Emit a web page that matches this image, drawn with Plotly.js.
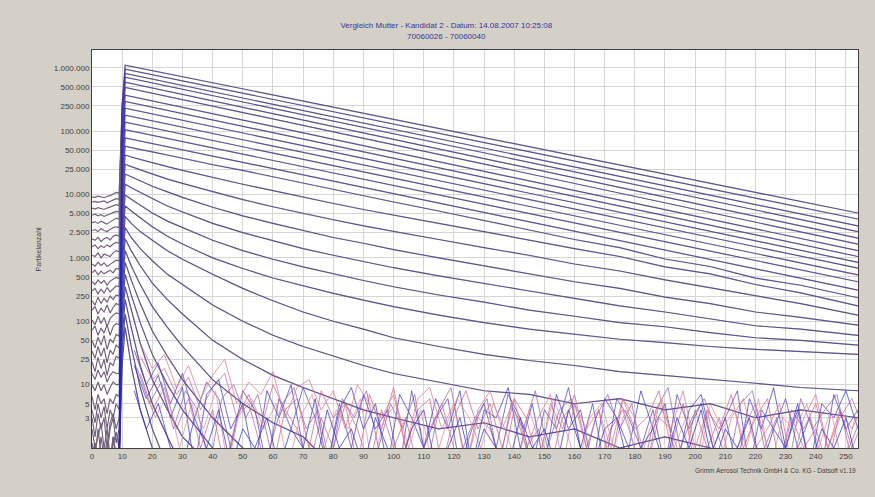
<!DOCTYPE html>
<html>
<head>
<meta charset="utf-8">
<script src="https://cdn.plot.ly/plotly-3.0.1.min.js"></script>
<style>html,body{margin:0;padding:0;background:#d4d0c8;}#chart{width:875px;height:497px;}</style>
</head>
<body>
<div id="chart"></div>
<script>
// ---- data ----
const X_TICKS = [0,10,20,30,40,50,60,70,80,90,100,110,120,130,140,150,160,170,180,190,200,210,220,230,240,250];
const Y_TICKS = [3,5,10,25,50,100,250,500,1000,2500,5000,10000,25000,50000,100000,250000,500000,1000000];
const Y_TICKTEXT = ['3','5','10','25','50','100','250','500','1.000','2.500','5.000','10.000','25.000','50.000','100.000','250.000','500.000','1.000.000'];

// sample times before the aerosol arrives (only Kandidat counts there)
const X_VOR = [0,1,2,3,4,5,6,7,8,9];
// Mutter counts are zero before x=10 (drawn just below the axis floor)
const MUTTER_START_X = 9;
const MUTTER_START_WERT = 0.4;

// channels that decay in a straight line on the log scale: values at X_GERADE
const X_GERADE = [10, 11, 254];
const geradeKanaele = [
  [275000,1100000,5100],
  [240000,950000,4100],
  [200000,810000,3200],
  [180000,710000,2600],
  [150000,590000,2050],
  [120000,490000,1650],
  [92000,370000,1300],
  [74000,295000,1050],
  [58000,230000,850],
  [45000,178000,690],
  [35000,138000,540],
  [26000,105000,420],
  [19500,78000,310]
];

// curved channels: values at X_KURVE (null = no more data)
const X_KURVE = [10,11,13,16,20,25,30,40,50,60,70,80,90,100,115,130,145,160,175,190,205,220,235,254];
const kurveKanaele = [
  [14500,58000,55000,51000,47000,42000,37000,29500,24000,19000,15000,12000,9600,7600,5500,3900,2750,1950,1450,960,730,480,370,235],
  [10500,42000,39000,35500,31500,27500,24000,18500,14500,11500,9000,7200,5800,4700,3500,2600,1900,1400,1050,720,560,380,280,175],
  [7500,30000,27500,24500,21000,17500,15000,11000,8300,6400,5000,4000,3200,2600,1950,1450,1100,800,620,450,340,250,190,125],
  [5200,21000,19000,16500,13500,11000,9000,6300,4600,3500,2700,2100,1700,1350,1000,750,560,420,330,240,190,140,115,87],
  [3600,14500,12800,10800,8500,6600,5300,3500,2500,1850,1400,1100,880,700,520,390,300,230,175,140,110,85,75,60],
  [2400,9800,8400,6800,5100,3800,3000,1900,1300,950,720,560,440,350,260,200,150,120,95,82,66,55,50,42],
  [1650,6600,5500,4300,3100,2200,1650,1000,680,480,360,275,215,170,125,95,75,62,52,46,40,36,33,30],
  [1100,4500,3500,2600,1900,1300,950,550,330,210,140,100,75,55,40,30,24,20,16,14,12,10.5,9,8],
  [750,3000,2100,1400,900,550,380,180,100,60,40,28,20,15,11,8,7,5,6,4,5,3,4,3],
  [500,2000,1300,750,400,220,130,50,25,14,9,6,4,3,2,2.5,1.5,2,1,1.5,1,0.5,1,0.5],
  [330,1300,750,380,170,80,40,12,5,2.5,1.5,0.5,null,null,null,null,null,null,null,null,null,null,null,null],
  [210,850,450,190,70,28,12,3,1,0.5,null,null,null,null,null,null,null,null,null,null,null,null,null,null],
  [140,550,260,95,30,10,4,1,0.5,null,null,null,null,null,null,null,null,null,null,null,null,null,null,null],
  [90,350,150,45,12,4,1.5,0.5,null,null,null,null,null,null,null,null,null,null,null,null,null,null,null,null],
  [55,220,80,20,5,1.5,0.5,null,null,null,null,null,null,null,null,null,null,null,null,null,null,null,null,null],
  [35,130,40,9,2,0.5,null,null,null,null,null,null,null,null,null,null,null,null,null,null,null,null,null,null],
  [20,80,20,4,1,0.5,null,null,null,null,null,null,null,null,null,null,null,null,null,null,null,null,null,null]
];

// Kandidat background at X_VOR, one row per channel (straight channels first, then curved)
const hintergrund = [
  [9200,9000,9400,9100,8900,9300,9600,10200,10800,10500],
  [7600,7800,7500,7700,7900,7400,7800,8300,8600,8400],
  [6100,5900,6200,6000,5800,6100,6300,6600,6900,6700],
  [4700,4900,4600,4800,4500,4700,5000,5200,5400,5300],
  [3600,3700,3500,3800,3600,3400,3700,4000,4200,4100],
  [2700,2800,2600,2900,2700,2600,2800,3000,3100,3000],
  [2000,1900,2100,1800,2000,2100,1900,2200,2300,2200],
  [1500,1600,1400,1550,1450,1600,1500,1650,1750,1700],
  [1100,1050,1200,1000,1150,1100,1050,1200,1300,1250],
  [800,740,850,760,830,730,790,860,920,890],
  [580,640,540,620,560,600,640,580,680,660],
  [420,380,450,400,440,370,430,460,490,470],
  [300,330,270,320,280,340,290,320,360,350],
  [210,180,240,190,230,200,250,220,260,250],
  [150,170,130,160,140,180,135,165,190,180],
  [105,88,120,92,115,82,110,125,135,130],
  [72,84,60,78,65,88,60,82,92,88],
  [50,38,56,42,60,36,52,46,62,58],
  [34,26,40,28,38,22,35,30,42,38],
  [23,16,27,18,25,14,22,20,28,26],
  [15,12,17,13,16,11,14,16,15,15],
  [10,8,11,8,10,7,9,11,10,10],
  [6.5,4,7,5,6,3.5,6,5,7,6.5],
  [4,2.5,5,3,4.5,2,4,3,5,4],
  [3,1.5,3.5,2,3,1,2.5,3.5,2,3],
  [2,1,1.5,2.5,1,0.8,2,3,1.2,2],
  [1.2,0.7,2,0.8,1,2,0.7,1.2,1.8,1],
  [0.8,1.2,0.6,1.5,0.7,1,0.6,1.5,0.8,1],
  [0.6,0.8,1,0.6,0.7,1.3,0.6,0.8,1,0.7],
  [0.5,1.2,0.6,0.6,0.9,0.6,0.5,1.5,0.6,0.6]
];

// noisy low-count channels
const X_RAUSCH_A = [14,18,22,26,30,34,38,42,46,50,54,58,62,66,70,74,78,82,86,90,94,98,102,106,110,114,118,122,126,130,134,138,142,146,150,154,158,162,166,170,174,178,182,186,190,194,198,202,206,210,214,218,222,226,230,234,238,242,246,250,254];
const X_RAUSCH_B = [16,20,24,28,32,36,40,44,48,52,56,60,64,68,72,76,80,84,88,92,96,100,104,108,112,116,120,124,128,132,136,140,144,148,152,156,160,164,168,172,176,180,184,188,192,196,200,204,208,212,216,220,224,228,232,236,240,244,248,252,256];
const X_RAUSCH_C = [15,19,23,27,31,35,39,43,47,51,55,59,63,67,71,75,79,83,87,91,95,99,103,107,111,115,119,123,127,131,135,139,143,147,151,155,159,163,167,171,175,179,183,187,191,195,199,203,207,211,215,219,223,227,231,235,239,243,247,251,255];
const X_RAUSCH_D = [17,21,25,29,33,37,41,45,49,53,57,61,65,69,73,77,81,85,89,93,97,101,105,109,113,117,121,125,129,133,137,141,145,149,153,157,161,165,169,173,177,181,185,189,193,197,201,205,209,213,217,221,225,229,233,237,241,245,249,253,257];

const rauschBlau1 = [20,6,14,3,9,0.5,7,12,2,5, 0.5,8,3,10,1,6,0.5,4,9,2, 5,0.5,7,3,1,6,2,8,0.5,4, 3,9,1,5,0.5,7,2,4,0.5,6, 3,1,8,2,5,0.5,4,7,1,3, 0.5,6,2,9,1,4,0.5,5,3,8, 2];
const rauschBlau2 = [35,10,22,5,15,3,11,6,1,8, 4,0.5,6,2,9,3,0.5,5,1,7, 2,4,0.5,8,1,3,6,0.5,2,5, 1,7,3,0.5,4,2,9,1,5,0.5, 6,3,1,4,0.5,7,2,5,1,3, 8,0.5,4,2,6,1,3,0.5,7,2, 4];
const rauschBlau3 = [8,2,5,1,0.5,3,1,4,0.5,2, 1,3,0.5,2,1,0.5,4,1,2,0.5, 3,1,0.5,2,4,0.5,1,3,0.5,2, 1,0.5,3,1,2,0.5,4,1,0.5,2, 3,0.5,1,2,0.5,3,1,4,0.5,2, 1,3,0.5,2,1,5,0.5,2,1,3, 0.5];
const rauschRot1 = [28,12,18,7,13,4,9,15,3,7, 2,10,4,6,1,8,3,5,0.5,7, 2,9,1,4,6,0.5,3,8,2,5, 1,6,3,0.5,5,2,7,1,4,0.5, 6,2,3,8,1,5,0.5,4,2,7, 1,3,6,0.5,4,2,5,1,3,6, 2];
const rauschRot2 = [15,4,9,2,6,1,4,0.5,3,5, 1,0.5,4,2,0.5,3,1,5,2,0.5, 4,1,3,0.5,2,5,1,0.5,3,2, 0.5,4,1,2,0.5,3,5,1,0.5,2, 4,1,0.5,3,2,0.5,4,1,3,0.5, 2,5,1,0.5,3,1,2,0.5,4,1, 3];
const rauschRot3 = [45,18,30,9,20,6,14,25,5,11, 7,16,3,9,12,4,8,2,10,5, 3,7,1,6,9,2,5,0.5,4,8, 2,6,1,3,7,0.5,5,2,4,1, 6,3,0.5,5,2,8,1,4,0.5,3, 6,1,2,5,0.5,3,7,1,4,2, 5];
const rauschLila1 = [18,5,11,2,8,4,0.5,6,10,3, 7,1,5,9,2,4,0.5,6,3,8, 1,5,2,7,0.5,4,9,1,3,6, 0.5,5,2,8,1,4,6,0.5,3,7, 2,5,0.5,4,9,1,3,6,2,0.5, 5,8,1,3,0.5,6,2,4,7,1, 3];
const rauschRosa1 = [10,3,7,1,5,2,8,0.5,4,6, 2,5,0.5,3,7,1,4,2,6,0.5, 3,5,1,4,0.5,2,6,3,1,5, 2,0.5,4,1,6,2,0.5,3,5,1, 4,0.5,2,6,1,3,0.5,5,2,4, 1,6,0.5,3,2,5,1,4,0.5,3, 2];

// ---- traces ----
const FARBE_MUTTER = 'rgba(40,40,210,0.25)';
const FARBE_KANDIDAT = 'rgb(112,94,122)';
const BREITE = 1.15;
const traces = [];

const alleKanaele = geradeKanaele.map(w => [X_GERADE, w]).concat(kurveKanaele.map(w => [X_KURVE, w]));

alleKanaele.forEach((k, i) => {
  traces.push({
    type: 'scatter', mode: 'lines', connectgaps: false, hoverinfo: 'skip',
    x: X_VOR.concat(k[0]), y: hintergrund[i].concat(k[1]),
    line: {color: FARBE_KANDIDAT, width: BREITE}
  });
});

const rausch = [
  [X_RAUSCH_B, rauschRot1, 'rgba(215,110,135,0.8)'],
  [X_RAUSCH_A, rauschBlau1, 'rgba(60,60,210,0.75)'],
  [X_RAUSCH_C, rauschLila1, 'rgba(150,100,170,0.75)'],
  [X_RAUSCH_B, rauschRot2, 'rgba(200,100,150,0.75)'],
  [X_RAUSCH_A, rauschBlau2, 'rgba(90,70,190,0.75)'],
  [X_RAUSCH_D, rauschRosa1, 'rgba(225,140,160,0.75)'],
  [X_RAUSCH_B, rauschRot3, 'rgba(220,120,140,0.75)'],
  [X_RAUSCH_A, rauschBlau3, 'rgba(50,50,220,0.75)']
];
rausch.forEach(r => traces.push({
  type: 'scatter', mode: 'lines', hoverinfo: 'skip',
  x: r[0], y: r[1], line: {color: r[2], width: 1}
}));

alleKanaele.forEach((k) => {
  traces.push({
    type: 'scatter', mode: 'lines', connectgaps: false, hoverinfo: 'skip',
    x: [MUTTER_START_X].concat(k[0]), y: [MUTTER_START_WERT].concat(k[1]),
    line: {color: FARBE_MUTTER, width: BREITE}
  });
});

const FONT = 'Liberation Sans, Arial, sans-serif';
const layout = {
  width: 875, height: 497,
  paper_bgcolor: '#d4d0c8', plot_bgcolor: '#ffffff',
  margin: {l: 92, r: 17, t: 50, b: 49},
  showlegend: false,
  title: {
    text: 'Vergleich Mutter - Kandidat 2 - Datum: 14.08.2007 10:25:08<br>70060026 - 70060040',
    x: 0.51, xanchor: 'center', y: 0.943, yanchor: 'middle',
    font: {family: FONT, size: 8, color: '#34349a'}
  },
  xaxis: {
    range: [0, 254], tickvals: X_TICKS, ticks: '',
    showline: true, mirror: true, linecolor: '#404040', linewidth: 1,
    showgrid: true, gridcolor: '#d6d6d6', gridwidth: 1, zeroline: false,
    tickfont: {family: FONT, size: 8, color: '#404040'}
  },
  yaxis: {
    type: 'log', range: [0, 6.28], tickvals: Y_TICKS, ticktext: Y_TICKTEXT, ticks: '',
    showline: true, mirror: true, linecolor: '#404040', linewidth: 1,
    showgrid: true, gridcolor: '#d6d6d6', gridwidth: 1, zeroline: false,
    tickfont: {family: FONT, size: 8, color: '#404040'}
  },
  annotations: [
    {text: 'Partikelanzahl', xref: 'paper', yref: 'paper', x: -0.07, y: 0.5,
     xanchor: 'center', yanchor: 'middle', textangle: -90, showarrow: false,
     font: {family: FONT, size: 7, color: '#404040'}},
    {text: 'Grimm Aerosol Technik GmbH & Co. KG - Datsoft v1.19', xref: 'paper', yref: 'paper',
     x: 1, y: -0.056, xanchor: 'right', yanchor: 'middle', showarrow: false,
     font: {family: FONT, size: 6.5, color: '#404040'}}
  ]
};

Plotly.newPlot('chart', traces, layout, {staticPlot: true, displayModeBar: false});
</script>
</body>
</html>
